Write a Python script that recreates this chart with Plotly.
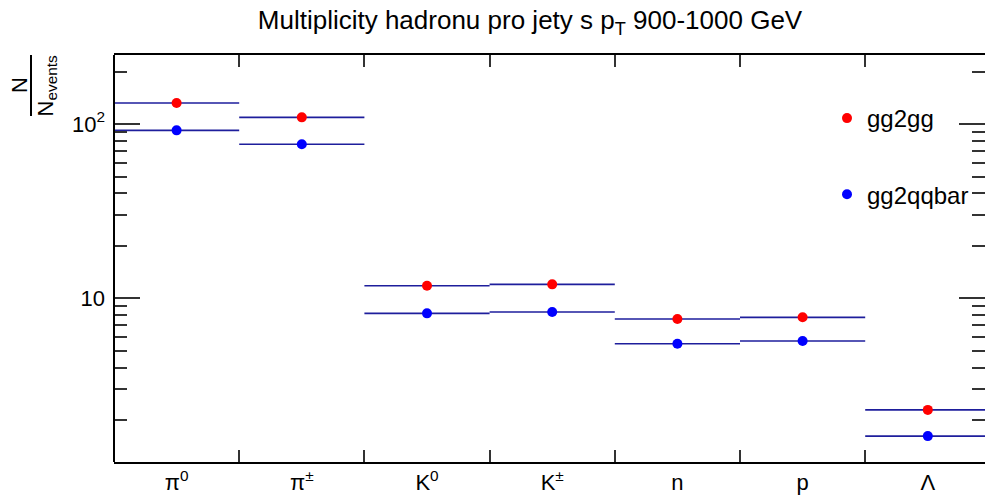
import plotly.graph_objects as go

# Particle species (bins) and mean multiplicities per event
species = ["π<sup>0</sup>", "π<sup>±</sup>", "K<sup>0</sup>", "K<sup>±</sup>", "n", "p", "Λ"]
gg2gg = [131.9, 109.2, 11.81, 12.03, 7.61, 7.78, 2.29]
gg2qqbar = [92.0, 76.5, 8.20, 8.35, 5.49, 5.69, 1.62]

y_major = [10, 100]
y_major_text = ["10", "10<sup>2</sup>"]
y_minor = [2, 3, 4, 5, 6, 7, 8, 9, 20, 30, 40, 50, 60, 70, 80, 90, 200]

bin_pos = list(range(len(species)))
bin_edges = [i - 0.5 for i in range(len(species) + 1)]

W, H = 985, 495
L, R, T, B = 114, 0, 55, 33
PW, PH = W - L - R, H - T - B
FONT = "Liberation Sans, Arial, sans-serif"
LINE_COL = "#1e1e9c"


def px_x(x):
    return (x - L) / PW


def px_y(y):
    return (H - B - y) / PH


fig = go.Figure()

for name, vals, col in [("gg2gg", gg2gg, "#ff0000"), ("gg2qqbar", gg2qqbar, "#0000ff")]:
    fig.add_trace(go.Scatter(
        x=bin_pos, y=vals, mode="markers", name=name,
        legendgroup=name,
        marker=dict(color=col, size=10, symbol="circle"),
        error_x=dict(type="constant", value=0.5, color=LINE_COL,
                     thickness=1.6, width=0),
    ))

# left frame edge
fig.add_shape(type="line", xref="paper", yref="paper", x0=0, x1=0, y0=0, y1=1,
              line=dict(color="black", width=2))

# y-axis title drawn as a rotated fraction N / N_events
fig.add_annotation(xref="paper", yref="paper", x=px_x(19.5), y=px_y(85.5),
                   xanchor="center", yanchor="middle",
                   text="N", showarrow=False, textangle=-90,
                   font=dict(family=FONT, size=22, color="black"))
fig.add_annotation(xref="paper", yref="paper", x=px_x(46), y=px_y(85.5),
                   xanchor="center", yanchor="middle",
                   text="N<sub>events</sub>", showarrow=False, textangle=-90,
                   font=dict(family=FONT, size=22, color="black"))
fig.add_shape(type="line", xref="paper", yref="paper",
              x0=px_x(31), x1=px_x(31), y0=px_y(55), y1=px_y(116),
              line=dict(color="black", width=2))

fig.update_layout(
    width=W, height=H,
    margin=dict(l=L, r=R, t=T, b=B),
    paper_bgcolor="white", plot_bgcolor="white",
    font=dict(family=FONT, size=20, color="black"),
    title=dict(text="Multiplicity hadronu pro jety s p<sub>T</sub> 900-1000 GeV",
               x=530 / W, xanchor="center", xref="container",
               y=1 - 20 / H, yanchor="middle", yref="container",
               font=dict(family=FONT, size=26, color="black")),
    showlegend=True,
    legend=dict(x=px_x(827), y=px_y(96), xanchor="left", yanchor="top",
                bgcolor="rgba(0,0,0,0)", borderwidth=0,
                traceorder="grouped", tracegroupgap=42,
                font=dict(family=FONT, size=24, color="black")),
    xaxis=dict(
        range=[-0.5, -0.5 + PW / 125.2],
        showline=True, linecolor="black", linewidth=2, mirror="ticks",
        tickmode="array", tickvals=bin_pos, ticktext=species, ticks="",
        minor=dict(ticks="inside", ticklen=12, tickwidth=1.5, tickcolor="#333",
                   tickmode="array", tickvals=bin_edges, showgrid=False),
        showgrid=False, zeroline=False,
        tickfont=dict(family=FONT, size=22),
    ),
    yaxis=dict(
        type="log", range=[0.061, 2.396],
        showline=False, mirror="ticks",
        ticks="inside", ticklen=26, tickwidth=1.5, tickcolor="#333",
        tickmode="array", tickvals=y_major, ticktext=y_major_text,
        ticklabelstandoff=8,
        minor=dict(ticks="inside", ticklen=13, tickwidth=1.5, tickcolor="#333",
                   tickmode="array", tickvals=y_minor, showgrid=False),
        showgrid=False, zeroline=False,
        tickfont=dict(family=FONT, size=22),
    ),
)

fig.write_html("out.html")
